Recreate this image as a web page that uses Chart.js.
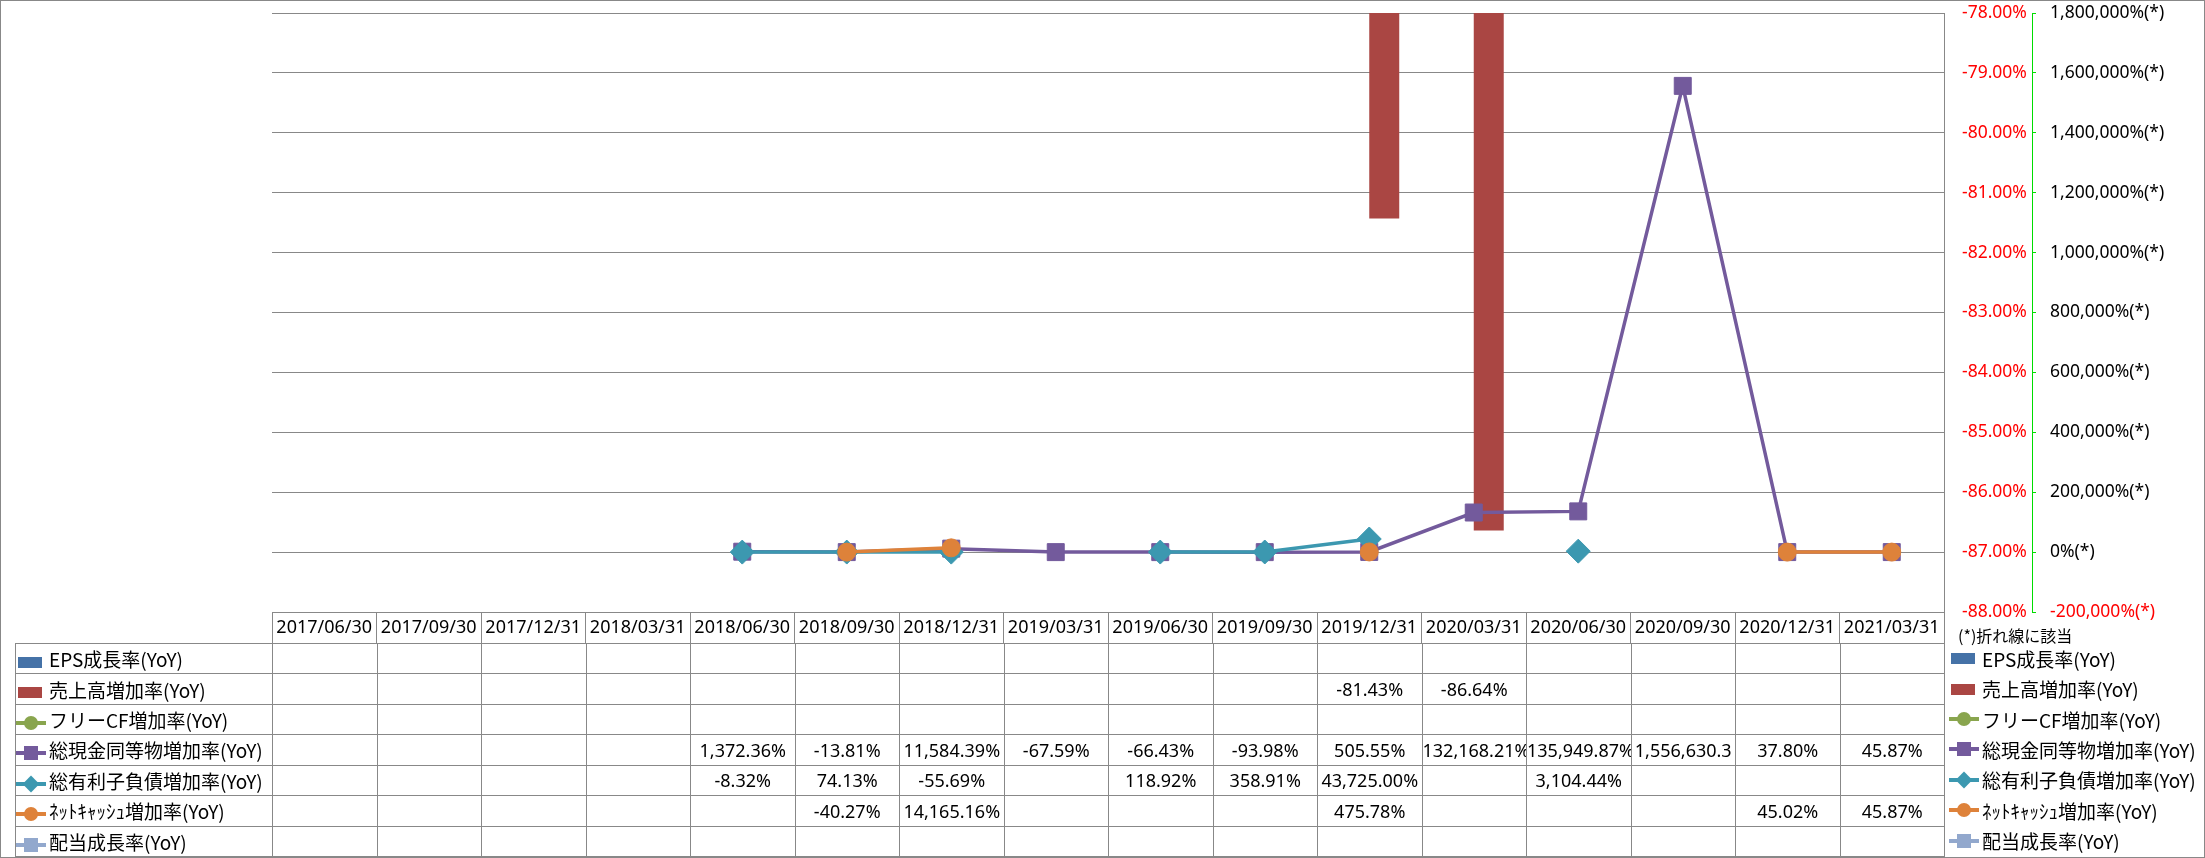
<!DOCTYPE html>
<html>
<head>
<meta charset="utf-8">
<script src="https://cdn.jsdelivr.net/npm/chart.js@4.4.0/dist/chart.umd.min.js"></script>
<style>
  html, body { margin: 0; padding: 0; background: #fff; }
  #wrap { position: relative; width: 2205px; height: 858px; overflow: hidden; font-family: "Noto Sans", "Noto Sans CJK JP", sans-serif; }
  #chart { position: absolute; left: 0; top: 0; }
  #frame { position: absolute; left: 0; top: 0; width: 2205px; height: 858px; box-sizing: border-box; border: 1px solid #888; pointer-events: none; }
  #dataTable { position: absolute; border-collapse: collapse; table-layout: fixed; }
  #dataTable td { border: 1px solid #888; padding: 0; font-size: 18px; text-align: center; white-space: nowrap; overflow: hidden; color: #000; }
  #dataTable td.name { text-align: left; font-size: 19px; font-family: "Noto Sans CJK JP", sans-serif; }
  .key { position: relative; display: inline-block; width: 30px; height: 20px; vertical-align: middle; margin-right: 3px; }
  .key .ln { position: absolute; left: 0; right: 0; top: 8px; height: 4px; }
  .key .mk { position: absolute; left: 8px; top: 3px; width: 14px; height: 14px; }
  .key .mk.circle { border-radius: 50%; }
  .key .mk.diamond { transform: rotate(45deg) scale(0.85); }
  .key .box { position: absolute; left: 2px; top: 5px; width: 24px; height: 11px; }
  .side { position: absolute; left: 1949px; font-size: 19px; font-family: "Noto Sans CJK JP", sans-serif; white-space: nowrap; display: flex; align-items: center; }
  #note { position: absolute; left: 1958px; top: 623px; font-size: 16px; font-family: "Noto Sans CJK JP", sans-serif; white-space: nowrap; }
</style>
</head>
<body>
<div id="wrap">
  <canvas id="chart" width="2205" height="858"></canvas>
  <div id="note">(*)折れ線に該当</div>
  <div id="frame"></div>
</div>
<script>
const periods = ['2017/06/30', '2017/09/30', '2017/12/31', '2018/03/31', '2018/06/30', '2018/09/30', '2018/12/31', '2019/03/31',
  '2019/06/30', '2019/09/30', '2019/12/31', '2020/03/31', '2020/06/30', '2020/09/30', '2020/12/31', '2021/03/31'];

// bar series (left red axis)
const epsGrowth = [null, null, null, null, null, null, null, null, null, null, null, null, null, null, null, null];
const salesGrowth = [null, null, null, null, null, null, null, null, null, null, -81.43, -86.64, null, null, null, null];

// line series (right axis, (*))
const freeCfGrowth = [null, null, null, null, null, null, null, null, null, null, null, null, null, null, null, null];
const cashGrowth = [null, null, null, null, 1372.36, -13.81, 11584.39, -67.59, -66.43, -93.98, 505.55, 132168.21, 135949.87, 1556630.3, 37.80, 45.87];
const debtGrowth = [null, null, null, null, -8.32, 74.13, -55.69, null, 118.92, 358.91, 43725.00, null, 3104.44, null, null, null];
const netCashGrowth = [null, null, null, null, null, -40.27, 14165.16, null, null, null, 475.78, null, null, null, 45.02, 45.87];
const dividendGrowth = [null, null, null, null, null, null, null, null, null, null, null, null, null, null, null, null];

const barAxisMin = -88, barAxisMax = -78, barAxisStep = 1;
const lineAxisMin = -200000, lineAxisMax = 1800000, lineAxisStep = 200000;

const series = [
  { name: 'EPS成長率(YoY)', data: epsGrowth, kind: 'bar', color: '#4572A7' },
  { name: '売上高増加率(YoY)', data: salesGrowth, kind: 'bar', color: '#AA4643' },
  { name: 'フリーCF増加率(YoY)', data: freeCfGrowth, kind: 'line', color: '#89A54E', marker: 'circle' },
  { name: '総現金同等物増加率(YoY)', data: cashGrowth, kind: 'line', color: '#735A9C', marker: 'rect' },
  { name: '総有利子負債増加率(YoY)', data: debtGrowth, kind: 'line', color: '#3C98B0', marker: 'rectRot' },
  { name: 'ﾈｯﾄｷｬｯｼｭ増加率(YoY)', data: netCashGrowth, kind: 'line', color: '#DE823A', marker: 'circle' },
  { name: '配当成長率(YoY)', data: dividendGrowth, kind: 'line', color: '#92A8CD', marker: 'rect' }
];

const markerRadius = { rect: 12, rectRot: 12, circle: 9 };
// lower order is drawn on top; bars keep their grouping order (EPS left, sales right)
const drawOrder = [4, 5, 6, 3, 2, 1, 7];

const datasets = series.map(function(s, i) {
  if (s.kind === 'bar') {
    return {
      type: 'bar', label: s.name, data: s.data, yAxisID: 'yBar',
      backgroundColor: s.color, borderWidth: 0,
      barPercentage: 1, categoryPercentage: 0.574, order: drawOrder[i]
    };
  }
  return {
    type: 'line', label: s.name, data: s.data, yAxisID: 'yLine',
    borderColor: s.color, backgroundColor: s.color, borderWidth: 3.5,
    pointStyle: s.marker, pointRadius: markerRadius[s.marker],
    pointBackgroundColor: s.color, pointBorderColor: s.color, pointBorderWidth: 1,
    tension: 0, spanGaps: false, order: drawOrder[i]
  };
});

const xFont = { family: 'Noto Sans', size: 18 };
const yFont = { family: 'Noto Sans', size: 17.5 };

function noEdgePadding(s) {
  s.paddingTop = 0;
  s.paddingBottom = 0;
}

const chart = new Chart(document.getElementById('chart'), {
  type: 'bar',
  data: { labels: periods, datasets: datasets },
  options: {
    responsive: false,
    animation: false,
    events: [],
    layout: { padding: { left: 272, top: 13, right: 3, bottom: 215 } },
    plugins: { legend: { display: false }, tooltip: { enabled: false } },
    scales: {
      x: {
        offset: true,
        grid: { offset: true, drawOnChartArea: false, drawTicks: true, tickLength: 31, color: '#888', lineWidth: 1 },
        border: { display: true, color: '#888' },
        ticks: { padding: -26, color: '#000', font: xFont, maxRotation: 0, autoSkip: false },
        afterFit: function(s) { s.height = 31; }
      },
      yBar: {
        type: 'linear', position: 'right', weight: 0,
        min: barAxisMin, max: barAxisMax,
        ticks: {
          stepSize: barAxisStep, padding: 18, color: '#FF0000', font: yFont,
          callback: function(v) { return v.toFixed(2) + '%'; }
        },
        grid: { color: '#888', lineWidth: 1, drawTicks: false },
        border: { display: true, color: '#888' },
        afterFit: function(s) { s.width = 88; noEdgePadding(s); }
      },
      yLine: {
        type: 'linear', position: 'right', weight: 1,
        min: lineAxisMin, max: lineAxisMax,
        ticks: {
          stepSize: lineAxisStep, padding: 14, font: yFont,
          color: function(ctx) { return ctx.tick && ctx.tick.value < 0 ? '#FF0000' : '#000'; },
          callback: function(v) { return v.toLocaleString('en-US') + '%(*)'; }
        },
        grid: { drawOnChartArea: false, drawTicks: true, tickLength: 4, color: '#00DD00' },
        border: { display: true, color: '#00DD00', dash: [4, 3] },
        afterFit: function(s) { s.width = 170; noEdgePadding(s); }
      }
    }
  }
});

// data table under the plot, aligned on the x scale
function fmt(v) {
  if (v === null) return '';
  let s = v.toLocaleString('en-US', { minimumFractionDigits: 2, maximumFractionDigits: 2 }) + '%';
  if (s.length > 12) s = s.slice(0, 11);
  return s;
}

function keyHtml(s) {
  if (s.kind === 'bar') return '<span class="key"><span class="box" style="background:' + s.color + '"></span></span>';
  const cls = s.marker === 'circle' ? 'circle' : (s.marker === 'rectRot' ? 'diamond' : '');
  return '<span class="key"><span class="ln" style="background:' + s.color + '"></span>' +
    '<span class="mk ' + cls + '" style="background:' + s.color + '"></span></span>';
}

const area = chart.chartArea;
const colW = (area.right - area.left) / periods.length;
const tableLeft = 15;
const tableTop = chart.scales.x.bottom;
const rowH = (858 - 2 - tableTop) / series.length;

const table = document.createElement('table');
table.id = 'dataTable';
table.style.left = tableLeft + 'px';
table.style.top = tableTop + 'px';
table.style.width = (area.right - tableLeft) + 'px';
let html = '<colgroup><col style="width:' + (area.left - tableLeft) + 'px">';
periods.forEach(function() { html += '<col style="width:' + colW + 'px">'; });
html += '</colgroup>';
series.forEach(function(s) {
  html += '<tr style="height:' + rowH + 'px"><td class="name">' + keyHtml(s) + s.name + '</td>';
  s.data.forEach(function(v) { html += '<td>' + fmt(v) + '</td>'; });
  html += '</tr>';
});
table.innerHTML = html;
document.getElementById('wrap').appendChild(table);

// legend at the right of the table
series.forEach(function(s, i) {
  const d = document.createElement('div');
  d.className = 'side';
  d.style.top = (tableTop + i * rowH) + 'px';
  d.style.height = rowH + 'px';
  d.innerHTML = keyHtml(s) + s.name;
  document.getElementById('wrap').appendChild(d);
});
</script>
</body>
</html>
